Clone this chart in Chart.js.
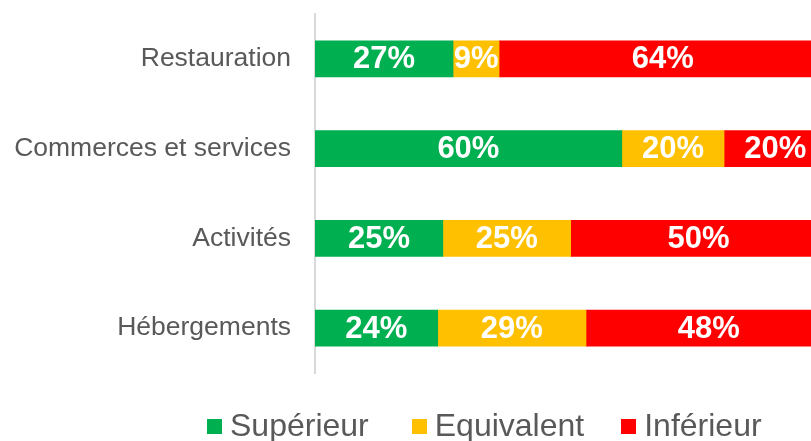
<!DOCTYPE html>
<html>
<head>
<meta charset="utf-8">
<script src="https://cdn.jsdelivr.net/npm/chart.js@4/dist/chart.umd.min.js"></script>
<style>
    html, body { margin: 0; padding: 0; background: #fff; overflow: hidden; }
    #wrap { position: relative; width: 811px; height: 441px; }
    #legend {
        position: absolute; left: 207px; top: 407px;
        display: flex; align-items: center;
        font-family: 'Liberation Sans', Arial, sans-serif;
        font-size: 32px; color: #595959; line-height: 36px;
    }
    #legend .item { display: flex; align-items: center; margin-right: 43px; }
    #legend .item:nth-child(2) { margin-right: 37px; }
    #legend .box { width: 15px; height: 15px; margin-right: 8px; margin-top: 2px; }
</style>
</head>
<body>
<div id="wrap">
    <canvas id="chart1" width="811" height="441"></canvas>
    <div id="legend"></div>
</div>
<script>
/* data */
const categories = ['Restauration', 'Commerces et services', 'Activités', 'Hébergements'];
const seriesNames = ['Supérieur', 'Equivalent', 'Inférieur'];
const superieur = [27, 60, 25, 24];
const equivalent = [9, 20, 25, 29];
const inferieur = [64, 20, 50, 48];
const colors = ['#00B050', '#FFC000', '#FF0000'];

const font = "'Liberation Sans', Arial, sans-serif";

// white % labels in the middle of each segment
const barLabels = {
    id: 'barLabels',
    afterDatasetsDraw(chart) {
        const ctx = chart.ctx;
        ctx.save();
        ctx.fillStyle = '#fff';
        ctx.font = 'bold 31px ' + font;
        ctx.textAlign = 'center';
        ctx.textBaseline = 'middle';
        chart.data.datasets.forEach((ds, i) => {
            chart.getDatasetMeta(i).data.forEach((el, j) => {
                const x = (el.x + el.base) / 2;
                ctx.fillText(ds.data[j] + '%', x, el.y + 1);
            });
        });
        ctx.restore();
    }
};

const chart1 = new Chart(document.getElementById('chart1'), {
    type: 'bar',
    data: {
        labels: categories,
        datasets: [
            { label: seriesNames[0], data: superieur, backgroundColor: colors[0] },
            { label: seriesNames[1], data: equivalent, backgroundColor: colors[1] },
            { label: seriesNames[2], data: inferieur, backgroundColor: colors[2] }
        ]
    },
    options: {
        indexAxis: 'y',
        responsive: false,
        animation: false,
        barThickness: 36,
        layout: { autoPadding: false, padding: { top: 14, bottom: 68, left: 0, right: 0 } },
        plugins: {
            legend: { display: false },
            tooltip: { enabled: false }
        },
        scales: {
            x: {
                stacked: true,
                min: 0,
                max: 97,
                display: false
            },
            y: {
                stacked: true,
                afterFit(scale) {
                    scale.width = 315;
                    scale.paddingTop = 0;
                    scale.paddingBottom = 0;
                },
                grid: { display: false, drawTicks: false },
                border: { display: true, color: '#D9D9D9', width: 2 },
                ticks: {
                    padding: 24,
                    color: '#595959',
                    font: { family: font, size: 26.5 }
                }
            }
        }
    },
    plugins: [barLabels]
});

// legend built from the datasets
const legendEl = document.getElementById('legend');
chart1.data.datasets.forEach(ds => {
    const item = document.createElement('div');
    item.className = 'item';
    const box = document.createElement('span');
    box.className = 'box';
    box.style.background = ds.backgroundColor;
    const txt = document.createElement('span');
    txt.textContent = ds.label;
    item.appendChild(box);
    item.appendChild(txt);
    legendEl.appendChild(item);
});
</script>
</body>
</html>
